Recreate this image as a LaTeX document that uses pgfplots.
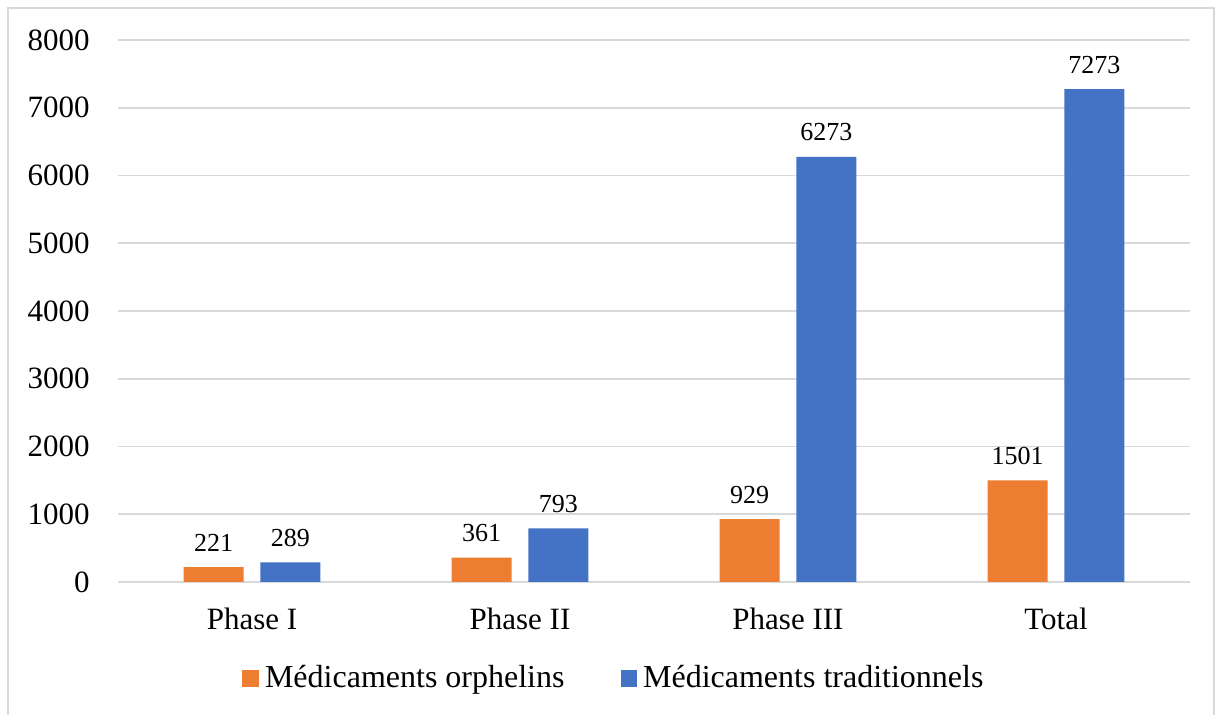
\documentclass[border=0pt]{standalone}
\usepackage{fontspec}
\setmainfont{Liberation Serif}
\usepackage{pgfplots}
\pgfplotsset{compat=1.18}
\definecolor{orph}{HTML}{ED7D31}
\definecolor{trad}{HTML}{4472C4}
\definecolor{gridc}{HTML}{D9D9D9}
\begin{document}
\begin{tikzpicture}
\path[use as bounding box] (0,0) rectangle (607.5pt,357.5pt);
\draw[gridc, line width=1pt] (4pt,-5pt) -- (4pt,353.5pt) -- (607pt,353.5pt) -- (607pt,-5pt);
\begin{axis}[
  at={(59pt,66.5pt)}, anchor=south west,
  scale only axis, width=536pt, height=271pt,
  ybar=8.3pt, bar width=30pt,
  xmin=-0.5, xmax=3.5, ymin=0, ymax=8000,
  xtick={0,1,2,3}, xticklabels={Phase I, Phase II, Phase III, Total},
  ytick={0,1000,...,8000},
  major tick length=0pt,
  axis line style={draw=none},
  ymajorgrids, grid style={gridc, line width=0.9pt},
  /pgf/number format/assume math mode=true,
  /pgf/number format/set thousands separator={},
  tick label style={font=\fontsize{15.5}{18}\selectfont, inner sep=0pt},
  yticklabel style={anchor=east, xshift=-14pt},
  xticklabel style={anchor=base, yshift=-24pt},
  nodes near coords,
  nodes near coords style={font=\fontsize{13}{15}\selectfont, anchor=base, yshift=8pt, inner sep=0pt,
    /pgf/number format/assume math mode=true},
  legend columns=2,
  legend style={draw=none, fill=none, at={(0.4636,-0.177)}, anchor=center,
    font=\fontsize{16}{18}\selectfont, inner sep=0pt,
    /tikz/every odd column/.append style={column sep=1pt},
    /tikz/every even column/.append style={column sep=26pt}},
  legend image code/.code={\fill[#1] (0pt,-4.5pt) rectangle (8.3pt,3.8pt);},
]
\addplot[fill=orph, draw=none]
  coordinates {(0,221) (1,361) (2,929) (3,1501)};
\addlegendentry{Médicaments orphelins}
\addplot[fill=trad, draw=none]
  coordinates {(0,289) (1,793) (2,6273) (3,7273)};
\addlegendentry{Médicaments traditionnels}
\end{axis}
\end{tikzpicture}
\end{document}
